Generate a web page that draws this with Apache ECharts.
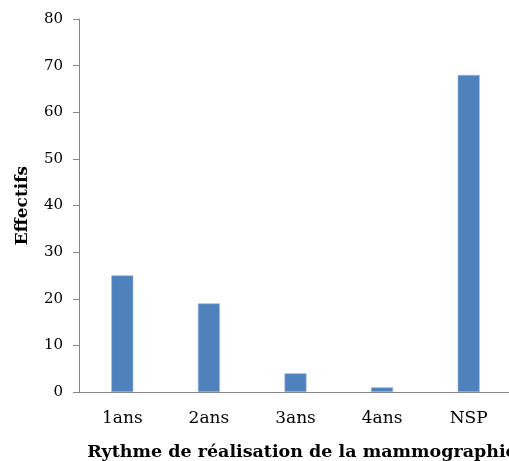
<!DOCTYPE html>
<html><head><meta charset="utf-8">
<script src="https://cdn.jsdelivr.net/npm/echarts@6/dist/echarts.min.js"></script>
<style>html,body{margin:0;padding:0;background:#fff}#c{width:509px;height:461px}</style>
</head><body><div id="c"></div>
<script>
var categories = ["1ans", "2ans", "3ans", "4ans", "NSP"];
var effectifs = [25, 19, 4, 1, 68];
var yMin = 0, yMax = 80, yStep = 10;
var xTitle = "Rythme de réalisation de la mammographie";
var yTitle = "Effectifs";

var font = "DejaVu Serif";
var chart = echarts.init(document.getElementById('c'));
chart.setOption({
  animation: false,
  grid: {left: 79, top: 19, width: 433, height: 373, containLabel: false, outerBoundsMode: 'none'},
  xAxis: {
    type: 'category', data: categories,
    axisLine: {lineStyle: {color: '#868686', width: 1}},
    axisTick: {show: false},
    axisLabel: {color: '#000', fontFamily: font, fontSize: 17, margin: 18},
    name: xTitle, nameLocation: 'middle', nameGap: 51,
    nameTextStyle: {color: '#000', fontFamily: font, fontSize: 17.5, fontWeight: 'bold', align: 'center', padding: [0,0,0,13]}
  },
  yAxis: {
    type: 'value', min: yMin, max: yMax, interval: yStep,
    axisLine: {show: true, lineStyle: {color: '#868686', width: 1}},
    axisTick: {show: true, length: 6, lineStyle: {color: '#868686'}},
    splitLine: {show: false},
    axisLabel: {color: '#000', fontFamily: font, fontSize: 15, margin: 16},
    name: yTitle, nameLocation: 'middle', nameGap: 48, nameRotate: 90,
    nameTextStyle: {color: '#000', fontFamily: font, fontSize: 17, fontWeight: 'bold'}
  },
  series: [{
    type: 'bar', data: effectifs, barWidth: 22,
    itemStyle: {color: '#4F81BD', borderColor: '#9DB9DE', borderWidth: 0.6}
  }]
});
</script></body></html>
